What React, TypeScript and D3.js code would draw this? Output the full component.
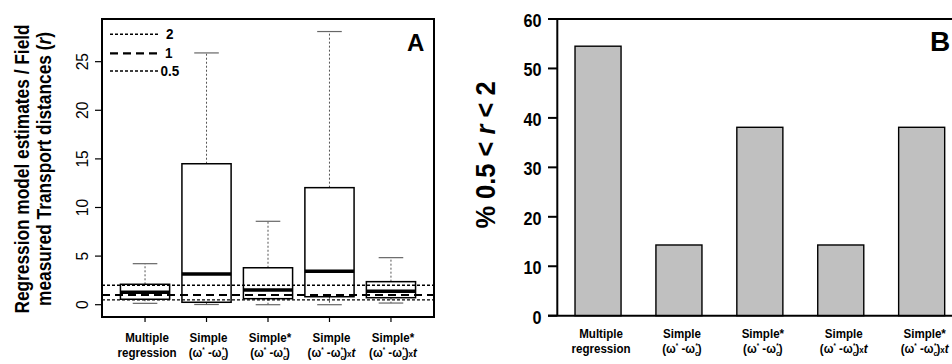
import React from "react";
import * as d3 from "d3";

// ---------- data ----------
const catLine1 = ["Multiple", "Simple", "Simple*", "Simple", "Simple*"];
const catLine2 = ["regression", "w", "w", "wt", "wt"]; // "w" = (ω*-ωc*), "wt" = (ω*-ωc*)×t
const whiskerLow = [0.14, 0.02, 0.0, 0.0, 0.17];
const q1 = [0.56, 0.25, 0.62, 0.82, 0.72];
const median = [1.28, 3.16, 1.51, 3.43, 1.38];
const q3 = [2.1, 14.5, 3.8, 12.04, 2.37];
const whiskerHigh = [4.22, 25.9, 8.58, 28.1, 4.84];
const refLines = [2, 1, 0.5];
const refLabels = ["2", "1", "0.5"];
const ticksA = [0, 5, 10, 15, 20, 25];
const pctValues = [54.5, 14.3, 38.1, 14.3, 38.1];
const ticksB = [0, 10, 20, 30, 40, 50, 60];

const FONT = "'Liberation Sans', Arial, Helvetica, sans-serif";

function Line2({ kind }: { kind: string }) {
  if (kind === "regression") return <>{"regression"}</>;
  return (
    <>
      <tspan>(ω</tspan>
      <tspan dy={-5} fontSize={7}>*</tspan>
      <tspan dy={5}> -ω</tspan>
      <tspan dy={3} fontSize={8}>c</tspan>
      <tspan dy={-8} dx={-4} fontSize={7}>*</tspan>
      <tspan dy={5}>)</tspan>
      {kind === "wt" ? (
        <>
          <tspan fontSize={9}>x</tspan>
          <tspan fontStyle="italic">t</tspan>
        </>
      ) : null}
    </>
  );
}

function XLabel({ x, y1, y2, i }: { x: number; y1: number; y2: number; i: number }) {
  return (
    <g>
      <g transform={`translate(${x},${y1}) scale(0.89,1)`}>
        <text textAnchor="middle" fontSize={13} fontWeight="bold" fontFamily={FONT}>
          {catLine1[i]}
        </text>
      </g>
      <g transform={`translate(${x},${y2}) scale(0.89,1)`}>
        <text textAnchor="middle" fontSize={13} fontWeight="bold" fontFamily={FONT}>
          <Line2 kind={catLine2[i]} />
        </text>
      </g>
    </g>
  );
}

export default function App() {
  // Panel A scales
  const xA = d3.scaleLinear().domain([0.3, 5.7]).range([102, 434]);
  const yA = d3.scaleLinear().domain([-1.265, 29.39]).range([317, 19]);
  const idx = d3.range(catLine1.length);
  const halfBox = 0.4;
  const halfCap = 0.2;
  const dashFor = (v: number) => (v === 1 ? "8,5" : "3,2");
  const widthFor = (v: number) => (v === 1 ? 2.2 : 1.4);

  // Panel B scales
  const xB = d3
    .scaleBand<string>()
    .domain(idx.map(String))
    .range([557.3, 962.4])
    .paddingInner(0.431)
    .paddingOuter(0.219);
  const yB = d3.scaleLinear().domain([0, 60]).range([315.7, 19]);

  return (
    <svg
      width={952}
      height={364}
      style={{ position: "absolute", left: 0, top: 0, background: "#fff" }}
      fontFamily={FONT}
    >
      <rect x={0} y={0} width={952} height={364} fill="#fff" />
      {/* ================= Panel A ================= */}
      {/* y-axis title */}
      <g transform={`translate(29,169) rotate(-90) scale(0.865,1)`}>
        <text textAnchor="middle" fontSize={20} fontWeight="bold">
          Regression model estimates / Field
        </text>
      </g>
      <g transform={`translate(51,169) rotate(-90) scale(0.865,1)`}>
        <text textAnchor="middle" fontSize={20} fontWeight="bold">
          measured Transport distances (<tspan fontStyle="italic">r</tspan>)
        </text>
      </g>
      {/* y ticks */}
      {ticksA.map((t) => (
        <g key={"ta" + t}>
          <line x1={95} x2={102} y1={yA(t)} y2={yA(t)} stroke="#000" strokeWidth={1.2} />
          <g transform={`translate(88,${yA(t)}) rotate(-90) scale(0.92,1)`}>
            <text textAnchor="middle" fontSize={17}>
              {t}
            </text>
          </g>
        </g>
      ))}
      {/* x ticks */}
      {idx.map((i) => (
        <line
          key={"xa" + i}
          x1={xA(i + 1)}
          x2={xA(i + 1)}
          y1={317}
          y2={322}
          stroke="#000"
          strokeWidth={1.2}
        />
      ))}
      {/* whiskers */}
      {idx.map((i) => (
        <g key={"wh" + i}>
          <line
            x1={xA(i + 1)}
            x2={xA(i + 1)}
            y1={yA(q3[i])}
            y2={yA(whiskerHigh[i])}
            stroke="#555"
            strokeWidth={1}
            strokeDasharray="2,2"
          />
          <line
            x1={xA(i + 1)}
            x2={xA(i + 1)}
            y1={yA(q1[i])}
            y2={yA(whiskerLow[i])}
            stroke="#555"
            strokeWidth={1}
            strokeDasharray="2,2"
          />
          <line
            x1={xA(i + 1 - halfCap)}
            x2={xA(i + 1 + halfCap)}
            y1={yA(whiskerHigh[i])}
            y2={yA(whiskerHigh[i])}
            stroke="#666"
            strokeWidth={1.2}
          />
          <line
            x1={xA(i + 1 - halfCap)}
            x2={xA(i + 1 + halfCap)}
            y1={yA(whiskerLow[i])}
            y2={yA(whiskerLow[i])}
            stroke="#666"
            strokeWidth={1.2}
          />
        </g>
      ))}
      {/* boxes */}
      {idx.map((i) => (
        <g key={"bx" + i}>
          <rect
            x={xA(i + 1 - halfBox)}
            y={yA(q3[i])}
            width={xA(i + 1 + halfBox) - xA(i + 1 - halfBox)}
            height={yA(q1[i]) - yA(q3[i])}
            fill="#fff"
            stroke="#000"
            strokeWidth={1.5}
          />
          <line
            x1={xA(i + 1 - halfBox)}
            x2={xA(i + 1 + halfBox)}
            y1={yA(median[i])}
            y2={yA(median[i])}
            stroke="#000"
            strokeWidth={3.5}
          />
        </g>
      ))}
      {/* reference lines */}
      {refLines.map((v) => (
        <line
          key={"rl" + v}
          x1={102}
          x2={434}
          y1={yA(v)}
          y2={yA(v)}
          stroke="#000"
          strokeWidth={widthFor(v)}
          strokeDasharray={dashFor(v)}
        />
      ))}
      {/* frame */}
      <rect x={102} y={19} width={332} height={298} fill="none" stroke="#000" strokeWidth={2} />
      {/* legend */}
      {refLines.map((v, k) => {
        const ly = [34.3, 53.3, 71][k];
        const tx = [166, 165, 160.5][k];
        return (
          <g key={"lg" + v}>
            <line
              x1={110}
              x2={k === 2 ? 160 : 158}
              y1={ly}
              y2={ly}
              stroke="#000"
              strokeWidth={widthFor(v)}
              strokeDasharray={dashFor(v)}
            />
            <g transform={`translate(${tx},${ly + 5}) scale(0.9,1)`}>
              <text fontSize={15} fontWeight="bold">
                {refLabels[k]}
              </text>
            </g>
          </g>
        );
      })}
      <text x={407} y={50.7} fontSize={24} fontWeight="bold">
        A
      </text>
      {/* x labels */}
      {idx.map((i) => (
        <XLabel key={"xla" + i} x={xA(i + 1) + 2} y1={341.5} y2={357} i={i} />
      ))}

      {/* ================= Panel B ================= */}
      <g transform={`translate(495,155) rotate(-90) scale(0.91,1)`}>
        <text textAnchor="middle" fontSize={28} fontWeight="bold">
          % 0.5 &lt; <tspan fontStyle="italic">r</tspan> &lt; 2
        </text>
      </g>
      {/* bars */}
      {pctValues.map((v, i) => (
        <rect
          key={"bar" + i}
          x={xB(String(i))}
          y={yB(v)}
          width={xB.bandwidth()}
          height={yB(0) - yB(v)}
          fill="#c0c0c0"
          stroke="#000"
          strokeWidth={1.4}
        />
      ))}
      {/* axes */}
      <line x1={557.3} x2={557.3} y1={19} y2={315.7} stroke="#000" strokeWidth={2} />
      <line x1={548} x2={952} y1={19} y2={19} stroke="#000" strokeWidth={2} />
      <line x1={548} x2={952} y1={315.7} y2={315.7} stroke="#000" strokeWidth={2} />
      {ticksB.map((t) => (
        <g key={"tb" + t}>
          <line x1={548} x2={557.3} y1={yB(t)} y2={yB(t)} stroke="#000" strokeWidth={2} />
          <g transform={`translate(541.5,${yB(t) + 8}) scale(0.9,1)`}>
            <text textAnchor="end" fontSize={18} fontWeight="bold">
              {t}
            </text>
          </g>
        </g>
      ))}
      <text x={930} y={50.7} fontSize={28} fontWeight="bold">
        B
      </text>
      {idx.map((i) => (
        <XLabel
          key={"xlb" + i}
          x={(xB(String(i)) as number) + xB.bandwidth() / 2 + 3}
          y1={337.7}
          y2={352.5}
          i={i}
        />
      ))}
    </svg>
  );
}
